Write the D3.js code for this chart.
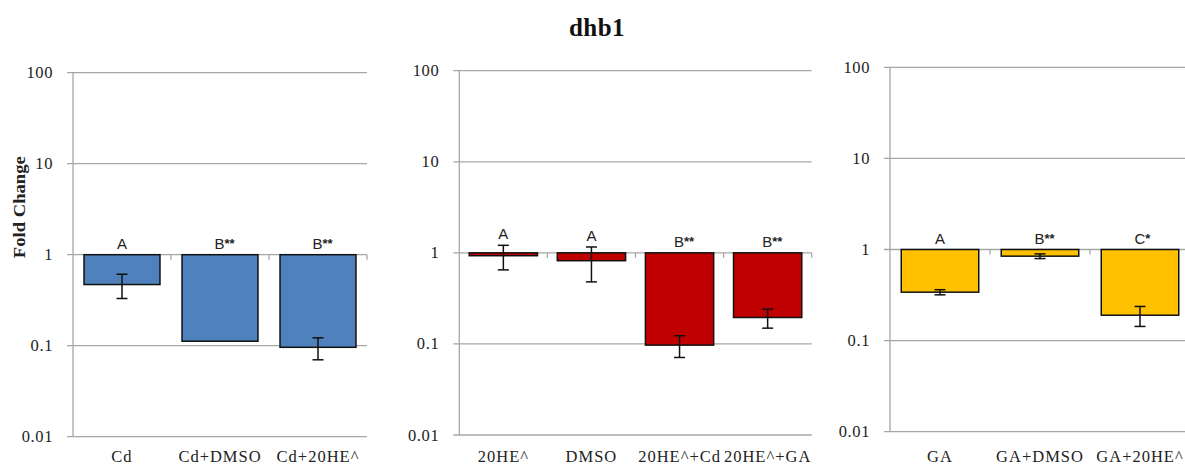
<!DOCTYPE html>
<html><head><meta charset="utf-8">
<script src="https://cdn.jsdelivr.net/npm/d3@7"></script>
<style>body{margin:0;background:#fff}svg{display:block}</style>
</head><body>
<script>
// ---- data ----
const title = "dhb1";
const yTicks = [0.01, 0.1, 1, 10, 100];
const yTickLabels = ["0.01", "0.1", "1", "10", "100"];

const cats1 = ["Cd", "Cd+DMSO", "Cd+20HE^"];
const vals1 = [0.47, 0.112, 0.096];
const errs1 = [0.14, 0, 0.026];
const sig1  = [["A",""], ["B","**"], ["B","**"]];

const cats2 = ["20HE^", "DMSO", "20HE^+Cd", "20HE^+GA"];
const vals2 = [0.93, 0.82, 0.097, 0.195];
const errs2 = [0.28, 0.34, 0.026, 0.046];
const sig2  = [["A",""], ["A",""], ["B","**"], ["B","**"]];

const cats3 = ["GA", "GA+DMSO", "GA+20HE^"];
const vals3 = [0.34, 0.845, 0.19];
const errs3 = [0.022, 0.05, 0.047];
const sig3  = [["A",""], ["B","**"], ["C","*"]];

// ---- layout ----
const W = 1185, H = 466;
const svg = d3.select("body").append("svg").attr("width", W).attr("height", H);

const panels = [
  {cats: cats1, vals: vals1, errs: errs1, sig: sig1, color: "#4F81BD", x0: 73,  x1: 367,  top: 72.7, bottom: 436.7, ylabel: true},
  {cats: cats2, vals: vals2, errs: errs2, sig: sig2, color: "#C00000", x0: 459.3, x1: 811.7, top: 70.7, bottom: 435, ylabel: false},
  {cats: cats3, vals: vals3, errs: errs3, sig: sig3, color: "#FFC000", x0: 890, x1: 1190, top: 67.3, bottom: 431.7, ylabel: false}
];

const grid = "#A6A6A6";
const serif = "Liberation Serif, Times New Roman, serif";
const sans = "Liberation Sans, Arial, sans-serif";

svg.append("text").attr("x", 597).attr("y", 36).attr("text-anchor", "middle")
  .attr("font-family", serif).attr("font-weight", "bold")
  .attr("font-size", 25).attr("letter-spacing", 0.5).attr("fill", "#111").text(title);

panels.forEach(p => {
  const g = svg.append("g");
  const y = d3.scaleLog().domain([0.01, 100]).range([p.bottom, p.top]);
  const x = d3.scaleBand().domain(p.cats).range([p.x0, p.x1]).paddingInner(0.225).paddingOuter(0.1125);
  const xb = d3.scaleBand().domain(p.cats).range([p.x0, p.x1]);

  g.selectAll("line.grid").data(yTicks).join("line")
    .attr("x1", p.x0 - 6).attr("x2", p.x1).attr("y1", d => y(d)).attr("y2", d => y(d))
    .attr("stroke", grid).attr("stroke-width", 1.3);
  g.append("line").attr("x1", p.x0).attr("x2", p.x0).attr("y1", p.top).attr("y2", p.bottom)
    .attr("stroke", grid).attr("stroke-width", 1.3);
  g.selectAll("text.yt").data(yTicks).join("text")
    .attr("x", p.x0 - 20).attr("y", d => y(d) + 5.5).attr("text-anchor", "end")
    .attr("font-family", serif).attr("font-size", 16.5)
    .attr("letter-spacing", 0.6).attr("fill", "#222")
    .text((d, i) => yTickLabels[i]);
  g.selectAll("line.ct").data(p.cats.slice(1).map(c => xb(c)).concat([p.x1])).join("line")
    .attr("x1", d => d).attr("x2", d => d).attr("y1", y(1)).attr("y2", y(1) + 5)
    .attr("stroke", grid).attr("stroke-width", 1.3);

  p.cats.forEach((c, i) => {
    const v = p.vals[i];
    const top = Math.min(y(1), y(v)), bot = Math.max(y(1), y(v));
    g.append("rect").attr("x", x(c)).attr("width", x.bandwidth())
      .attr("y", top).attr("height", bot - top)
      .attr("fill", p.color).attr("stroke", "#111").attr("stroke-width", 1.5);
    const cx = xb(c) + xb.bandwidth() / 2;
    const e = p.errs[i];
    if (e > 0) {
      const yt = y(v + e), yb = y(v - e);
      g.append("line").attr("x1", cx).attr("x2", cx).attr("y1", yt).attr("y2", yb)
        .attr("stroke", "#111").attr("stroke-width", 1.5);
      [yt, yb].forEach(yy => g.append("line").attr("x1", cx - 5.5).attr("x2", cx + 5.5)
        .attr("y1", yy).attr("y2", yy).attr("stroke", "#111").attr("stroke-width", 1.5));
    }
    const ly = Math.min(y(1), y(v + e)) - 6;
    const hasStar = !!p.sig[i][1];
    const t = g.append("text").attr("x", hasStar ? cx - 5.5 : cx).attr("y", ly)
      .attr("text-anchor", hasStar ? "start" : "middle")
      .attr("font-family", sans).attr("font-size", 15).attr("fill", "#222");
    t.append("tspan").text(p.sig[i][0]);
    if (hasStar) t.append("tspan").attr("font-size", 13).attr("dy", -1).attr("font-weight", "bold").text(p.sig[i][1]);
    g.append("text").attr("x", cx).attr("y", 462).attr("text-anchor", "middle")
      .attr("font-family", serif).attr("font-size", 16.5)
      .attr("letter-spacing", 1).attr("fill", "#222").text(c);
  });

  if (p.ylabel) {
    g.append("text").attr("transform", `translate(25,${(y(1) + y(10)) / 2 - 2}) rotate(-90)`)
      .attr("text-anchor", "middle")
      .attr("font-family", serif).attr("font-weight", "bold")
      .attr("font-size", 17).attr("textLength", 102).attr("lengthAdjust", "spacingAndGlyphs")
      .attr("fill", "#222").text("Fold Change");
  }
});
</script>
</body></html>
